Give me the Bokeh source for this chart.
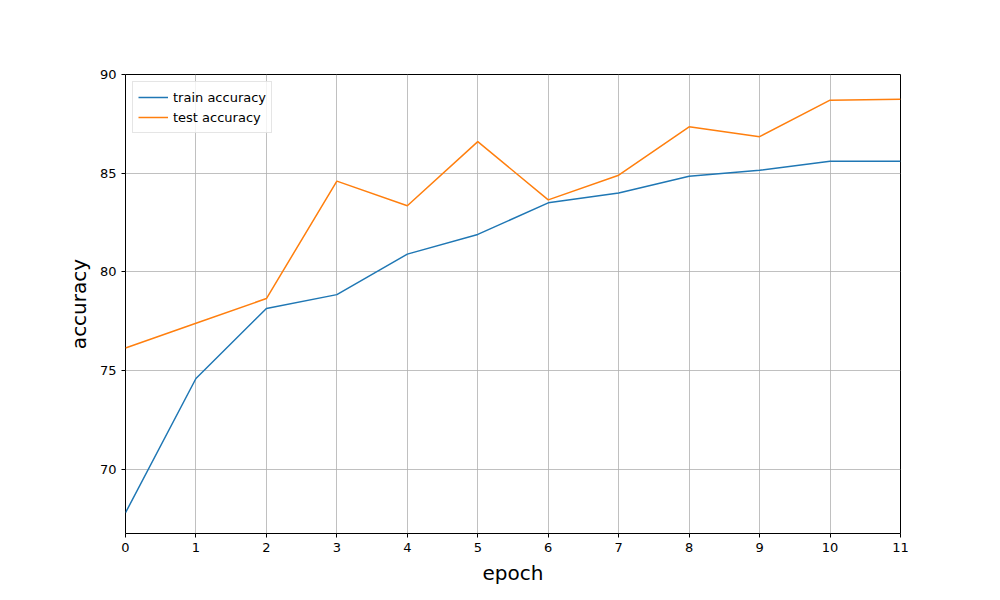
from bokeh.plotting import figure
from bokeh.models import FixedTicker, Range1d
from bokeh.embed import file_html
from bokeh.resources import INLINE

epochs = list(range(12))
train_acc = [67.8, 74.6, 78.15, 78.85, 80.9, 81.9, 83.5, 84.0, 84.85, 85.15, 85.6, 85.6]
test_acc = [76.15, 77.4, 78.65, 84.6, 83.35, 86.6, 83.65, 84.9, 87.35, 86.85, 88.7, 88.75]
y_ticks = [70, 75, 80, 85, 90]

p = figure(frame_width=775, frame_height=459, output_backend="svg", toolbar_location=None,
           x_range=Range1d(0, 11), y_range=Range1d(66.75, 90),
           min_border_left=125, min_border_right=84, min_border_top=74, min_border_bottom=51)

p.line(epochs, train_acc, line_color="#1f77b4", line_width=1.5, legend_label="train accuracy")
p.line(epochs, test_acc, line_color="#ff7f0e", line_width=1.5, legend_label="test accuracy")

p.xaxis.ticker = FixedTicker(ticks=epochs)
p.yaxis.ticker = FixedTicker(ticks=y_ticks)
p.xaxis.axis_label = "epoch"
p.yaxis.axis_label = "accuracy"
for ax in (p.xaxis, p.yaxis):
    ax.axis_label_text_font = "DejaVu Sans"
    ax.axis_label_text_font_size = "20px"
    ax.axis_label_text_font_style = "normal"
    ax.axis_label_text_color = "black"
    ax.major_label_text_font = "DejaVu Sans"
    ax.major_label_text_font_size = "13px"
    ax.major_label_text_color = "black"
    ax.minor_tick_line_color = None
    ax.major_tick_in = 0
    ax.major_tick_out = 4
    ax.axis_line_color = None
    ax.major_tick_line_color = "black"
    ax.axis_label_standoff = 6

p.grid.grid_line_color = "#b0b0b0"
p.grid.grid_line_width = 0.8
p.outline_line_color = "black"
p.outline_line_alpha = 1

p.legend.location = "top_left"
p.legend.label_text_font = "DejaVu Sans"
p.legend.label_text_font_size = "13px"
p.legend.label_text_color = "black"
p.legend.border_line_color = "#cccccc"
p.legend.background_fill_alpha = 0.8
p.legend.margin = 7
p.legend.padding = 5
p.legend.spacing = 0
p.legend.glyph_width = 30
p.legend.glyph_height = 20
p.legend.label_height = 20

open("out.html", "w").write(file_html(p, INLINE))
